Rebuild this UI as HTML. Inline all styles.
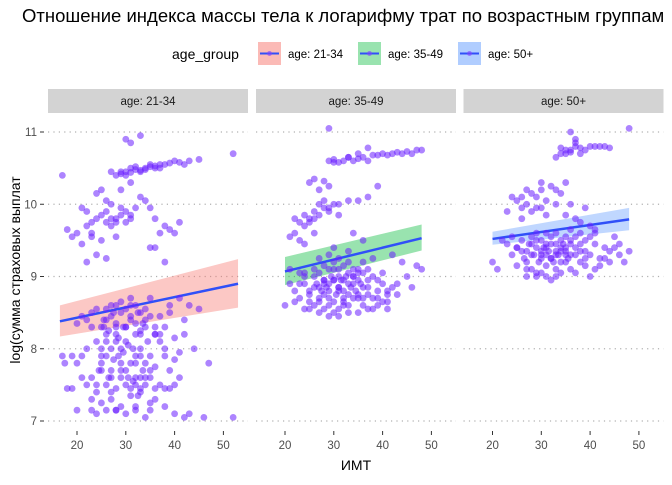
<!DOCTYPE html>
<html><head><meta charset="utf-8"><style>
body{margin:0;background:#fff;font-family:"Liberation Sans",sans-serif;overflow:hidden}
svg text{font-family:"Liberation Sans",sans-serif}
</style></head><body>
<svg id="c" width="672" height="480" xmlns="http://www.w3.org/2000/svg">
<text x="22" y="22" font-size="18.5" fill="#000">Отношение индекса массы тела к логарифму трат по возрастным группам</text>
<g>
<text x="172" y="59" font-size="14" fill="#000">age_group</text>
<g><rect x="258" y="42" width="23" height="23" fill="#f8766d" opacity="0.5"/><line x1="260" y1="53.5" x2="279" y2="53.5" stroke="#3050f8" stroke-width="2"/><circle cx="269.5" cy="53.5" r="2.5" fill="#7f3fff" opacity="0.6"/><text x="288" y="58" font-size="11.5">age: 21-34</text></g>
<g><rect x="358" y="42" width="23" height="23" fill="#00ba38" opacity="0.4"/><line x1="360" y1="53.5" x2="379" y2="53.5" stroke="#3050f8" stroke-width="2"/><circle cx="369.5" cy="53.5" r="2.5" fill="#7f3fff" opacity="0.6"/><text x="388" y="58" font-size="11.5">age: 35-49</text></g>
<g><rect x="458" y="42" width="23" height="23" fill="#619cff" opacity="0.5"/><line x1="460" y1="53.5" x2="479" y2="53.5" stroke="#3050f8" stroke-width="2"/><circle cx="469.5" cy="53.5" r="2.5" fill="#7f3fff" opacity="0.6"/><text x="488" y="58" font-size="11.5">age: 50+</text></g>
</g>
<text transform="translate(20,270) rotate(-90)" font-size="14" text-anchor="middle">log(сумма страховых выплат</text>
<text x="356" y="470" font-size="14" text-anchor="middle">ИМТ</text>
<g id="plot"></g>
</svg>
<script>
const panelLabels=["age: 21-34","age: 35-49","age: 50+"];
const yTicks=[7,8,9,10,11];
const xTicks=[20,30,40,50];
const fitX0=[16.5,20,20];
const fitX1=[53,48,48];
const fitY0=[8.38,9.07,9.52];
const fitY1=[8.9,9.53,9.79];
const ribLo0=[8.17,8.88,9.44];
const ribHi0=[8.6,9.27,9.62];
const ribLo1=[8.57,9.36,9.64];
const ribHi1=[9.24,9.72,9.95];
const ribColors=["#f8766d","#00ba38","#619cff"];
const p1x=[
24,25,26,27,28,29,30,31,32,33,
24.5,25.5,26.5,27.5,28.5,29.5,30.5,31.5,32.5,33.5,
23,24,25,26,27,28,29,30,31,32,
33,34,35,36,22,21,20,19,37,38,
26,27,28,29,30,31,32,33,34,35,
22,23,24,25,26,27,28,29,30,31,
32,33,34,35,36,37,38,39,40,41,
20,21,22,23,24,25,26,27,28,29,
30,31,32,33,34,35,36,37,38,39,
25,26,27,28,29,30,31,32,33,34,
25,27,29,31,33,35,24,28,32,36,
18,19,21,23,26,30,34,38,42,46,
20,23,28,32,35,40,43,52,17,17.5,
36,37,38,39,40,41,42,43,44,45,
41,42,39,40,47,36,35,34,33,32,
29.5,30.5,28.5,27.5,26.5,25.5,31.5,32.5,33.5,34.5,
28,29,30,31,32,33,34,35,36,37,
38,39,29,30,31,33,35,37,40,41,
42,43,45,52,32,34,36,27,30,31,
33,22,23,24,25,26,27,28,29,30,
31,32,26,27,28,29,30,31,22,24,
25,26,27,20,18,21,23,33,34,35,
36,37,38,39,40,41,17,29,31,28,
19,21,23,25,35,36,38,26,24,22];
const p1y=[
8.1,7.9,8.2,8.0,8.3,7.8,8.1,8.4,7.9,8.2,
7.7,8.4,7.6,8.5,7.9,8.3,7.6,8.0,8.5,7.7,
8.3,7.5,8.0,7.9,7.4,8.2,8.0,7.7,8.6,7.5,
8.0,8.3,7.9,8.2,8.0,7.9,7.8,7.9,8.1,8.0,
8.55,8.45,8.6,8.5,8.55,8.45,8.6,8.5,8.4,8.45,
7.5,7.6,7.4,7.7,7.5,7.6,7.45,7.7,7.5,7.45,
7.6,7.45,7.5,7.6,7.45,7.5,7.45,7.45,7.5,7.6,
8.35,8.45,8.4,8.5,8.55,8.3,8.4,8.6,8.35,8.65,
8.3,8.7,8.35,8.25,8.55,8.7,8.3,8.2,8.3,8.6,
7.8,8.1,7.7,8.1,7.6,8.3,7.8,8.2,7.6,7.8,
7.25,7.3,7.2,7.35,7.4,7.25,7.1,7.15,7.2,7.3,
7.45,7.45,7.6,7.3,7.15,7.1,7.05,7.2,7.05,7.05,
7.15,7.15,7.15,7.15,7.15,7.1,7.1,7.05,7.9,7.8,
8.2,8.45,7.9,8.5,8.15,8.7,8.4,8.6,8.0,8.55,
7.95,8.2,7.7,7.85,7.8,7.75,7.7,7.6,7.9,7.8,
7.95,8.05,8.15,7.85,8.25,8.3,7.55,7.35,8.35,8.1,
10.4,10.42,10.45,10.44,10.48,10.47,10.5,10.52,10.5,10.55,
10.55,10.57,10.45,10.4,10.5,10.45,10.55,10.5,10.6,10.58,
10.55,10.6,10.62,10.7,10.52,10.48,10.53,10.45,10.9,10.85,
10.95,9.7,9.75,9.8,9.85,9.9,9.8,9.75,9.85,9.9,
9.8,9.95,9.75,9.7,9.8,9.95,9.75,9.85,9.9,10.15,
10.2,10.05,10.0,9.6,9.65,9.95,9.6,10.1,10.05,9.95,
9.8,9.6,9.7,9.65,9.6,9.75,10.4,10.2,10.3,9.55,
9.55,9.45,9.55,9.5,9.4,9.4,9.2,9.25,9.3,9.2];
const p2x=[
24,25,26,27,28,29,30,31,32,33,
34,35,36,37,38,39,40,41,42,43,
27,28,29,30,31,32,33,34,35,36,
26,27,28,29,30,31,32,33,34,35,
22,23,24,25,26,27,28,29,30,31,
32,33,34,35,36,37,38,39,40,41,
20,21,23,25,27,29,31,33,35,37,
39,41,43,45,47,48,44,42,46,38,
28.5,29.5,30.5,31.5,32.5,33.5,27.5,26.5,34.5,35.5,
24,25,26,27,28,29,30,31,32,33,
21,22,23,24,36,37,38,39,40,41,
30,31,32,33,34,35,36,37,29,28,
22,23,24,25,26,27,28,29,30,31,
24,25,26,27,28,29,22,21,23,33,
25,27,29,31,35,37,39,34,36,30,
29,30,31,32,33,34,35,36,37,38,
39,40,41,42,43,44,45,46,48,47,
26,28,30,33,35,37,29,31,24,26];
const p2y=[
8.9,8.8,9.0,8.7,8.95,8.8,9.1,8.85,8.7,8.9,
9.0,8.75,8.85,8.95,8.7,8.8,8.9,8.8,8.85,8.75,
9.05,8.95,8.9,8.95,9.0,8.8,9.05,8.9,8.95,9.05,
8.6,8.65,8.55,8.6,8.5,8.55,8.65,8.6,8.7,8.7,
8.8,8.9,9.0,8.75,9.1,8.85,9.15,8.7,9.2,8.8,
9.15,9.2,9.1,9.05,9.2,9.1,9.25,8.6,8.65,8.55,
8.6,8.9,8.7,8.55,8.5,8.45,8.45,8.5,8.5,8.55,
8.7,8.75,8.9,9.0,9.15,9.1,9.2,9.3,8.85,9.0,
8.85,9.0,8.75,8.95,9.0,8.85,8.8,8.9,8.8,8.9,
9.05,8.65,8.85,9.25,8.75,9.3,8.65,9.1,8.6,9.35,
9.1,8.65,9.05,8.55,8.6,8.75,8.55,8.95,9.05,8.65,
8.95,8.85,8.95,8.75,9.0,9.1,8.7,8.85,9.1,8.9,
9.8,9.75,9.85,9.8,9.9,9.85,9.95,9.9,10.0,9.85,
9.7,9.75,9.8,10.0,10.05,9.95,9.6,9.55,9.5,10.05,
10.3,10.2,10.25,10.0,10.05,10.1,10.25,9.6,9.5,9.4,
10.6,10.62,10.58,10.6,10.65,10.6,10.63,10.65,10.6,10.68,
10.68,10.7,10.68,10.7,10.72,10.7,10.73,10.7,10.75,10.75,
10.35,10.32,10.58,10.65,10.7,10.78,11.05,9.25,9.45,9.6];
const p3x=[
24,25,26,27,28,29,30,31,32,33,
34,35,36,37,38,39,40,41,42,43,
27,28,29,30,31,32,33,34,35,36,
26.5,27.5,28.5,29.5,30.5,31.5,32.5,33.5,34.5,35.5,
22,23,24,25,26,37,38,39,40,41,
25,27,29,31,33,35,37,39,41,43,
20,21,44,45,46,47,48,42,44,46,
28,29,30,31,32,33,34,35,36,38,
29,30,31,32,33,34,28,27,36,40,
30,31,32,33,34,35,36,37,38,39,
25,26,27,28,29,30,31,32,33,34,
26,27,28,29,30,31,24,23,33,35,
34,35,36,37,38,39,40,41,42,43,
33,34,35,36,37,38,44,36,37,48,
35,38,39,40,41,36,37,26,30,45];
const p3y=[
9.3,9.4,9.35,9.2,9.45,9.5,9.3,9.4,9.25,9.45,
9.35,9.3,9.5,9.4,9.2,9.35,9.3,9.45,9.25,9.4,
9.35,9.3,9.4,9.35,9.3,9.45,9.3,9.4,9.35,9.3,
9.25,9.45,9.3,9.2,9.4,9.35,9.2,9.3,9.45,9.25,
9.5,9.45,9.55,9.4,9.5,9.55,9.45,9.5,9.55,9.6,
9.15,9.1,9.05,9.15,9.1,9.2,9.05,9.15,9.1,9.25,
9.2,9.1,9.35,9.4,9.3,9.2,9.35,9.15,9.2,9.45,
9.55,9.6,9.5,9.6,9.55,9.6,9.5,9.55,9.65,9.6,
9.0,9.05,9.0,8.95,9.0,9.05,9.1,9.0,9.1,9.0,
9.25,9.45,9.25,9.35,9.2,9.4,9.45,9.3,9.35,9.25,
10.05,10.1,10.0,10.15,10.1,10.2,10.05,10.25,10.2,10.15,
9.95,10.2,9.9,9.95,10.3,9.85,10.1,9.9,10.0,10.3,
10.7,10.75,10.72,10.8,10.78,10.75,10.8,10.8,10.8,10.8,
10.65,10.78,10.7,10.75,10.9,10.7,10.78,11.0,10.85,11.05,
9.85,9.75,9.95,9.7,9.65,10.0,9.8,9.8,9.95,9.55];
const PX=[p1x,p2x,p3x], PY=[p1y,p2y,p3y];
const NS="http://www.w3.org/2000/svg";
const plot=document.getElementById('plot');
const panelLeft=[48,256,463.5], panelW=200;
function sx(i,v){return panelLeft[i]+29+(v-20)*4.88;}
function sy(v){return 421-(v-7)*72.25;}
function mk(t,a,p){const e=document.createElementNS(NS,t);for(const k in a)e.setAttribute(k,a[k]);(p||plot).appendChild(e);return e;}
yTicks.forEach(t=>{
  const lb=mk('text',{x:37,y:sy(t)+4,'font-size':11.5,'text-anchor':'end',fill:'#4d4d4d'});
  
  
  lb.textContent=t;
  mk('line',{x1:40,x2:44,y1:sy(t),y2:sy(t),stroke:'#333','stroke-width':1});
});
for(let i=0;i<3;i++){
  const g=mk('g',{});
  
  
  const st=mk('rect',{x:panelLeft[i],y:89,width:panelW,height:24,fill:'#d3d3d3'},g);
  
  
  const stt=mk('text',{x:panelLeft[i]+panelW/2,y:105,'font-size':11.5,'text-anchor':'middle',fill:'#1a1a1a'},g);
  
  
  stt.textContent=panelLabels[i];
  yTicks.forEach(t=>{const l=mk('line',{x1:panelLeft[i],x2:panelLeft[i]+panelW,y1:sy(t),y2:sy(t),stroke:'#b0b0b0','stroke-width':1.2,'stroke-dasharray':'1.2 4.2'},g);
    
    });
  xTicks.forEach(t=>{mk('line',{x1:sx(i,t),x2:sx(i,t),y1:431,y2:435,stroke:'#333'},g);
    const lb=mk('text',{x:sx(i,t),y:449,'font-size':11.5,'text-anchor':'middle',fill:'#4d4d4d'},g);
    
    
    lb.textContent=t;});
  const rb=mk('polygon',{points:[[sx(i,fitX0[i]),sy(ribHi0[i])],[sx(i,fitX1[i]),sy(ribHi1[i])],[sx(i,fitX1[i]),sy(ribLo1[i])],[sx(i,fitX0[i]),sy(ribLo0[i])]].map(p=>p.join(',')).join(' '),fill:ribColors[i],'fill-opacity':0.4},g);
  
  
  const fl=mk('line',{x1:sx(i,fitX0[i]),y1:sy(fitY0[i]),x2:sx(i,fitX1[i]),y2:sy(fitY1[i]),stroke:'#3050f8','stroke-width':2.5},g);
  
  
  for(let k=0;k<PX[i].length;k++){
    const c=mk('circle',{cx:sx(i,PX[i][k]),cy:sy(PY[i][k]),r:3.4,fill:'#6a1fff','fill-opacity':0.55},g);
    
    
  }
}
</script>
</body></html>
